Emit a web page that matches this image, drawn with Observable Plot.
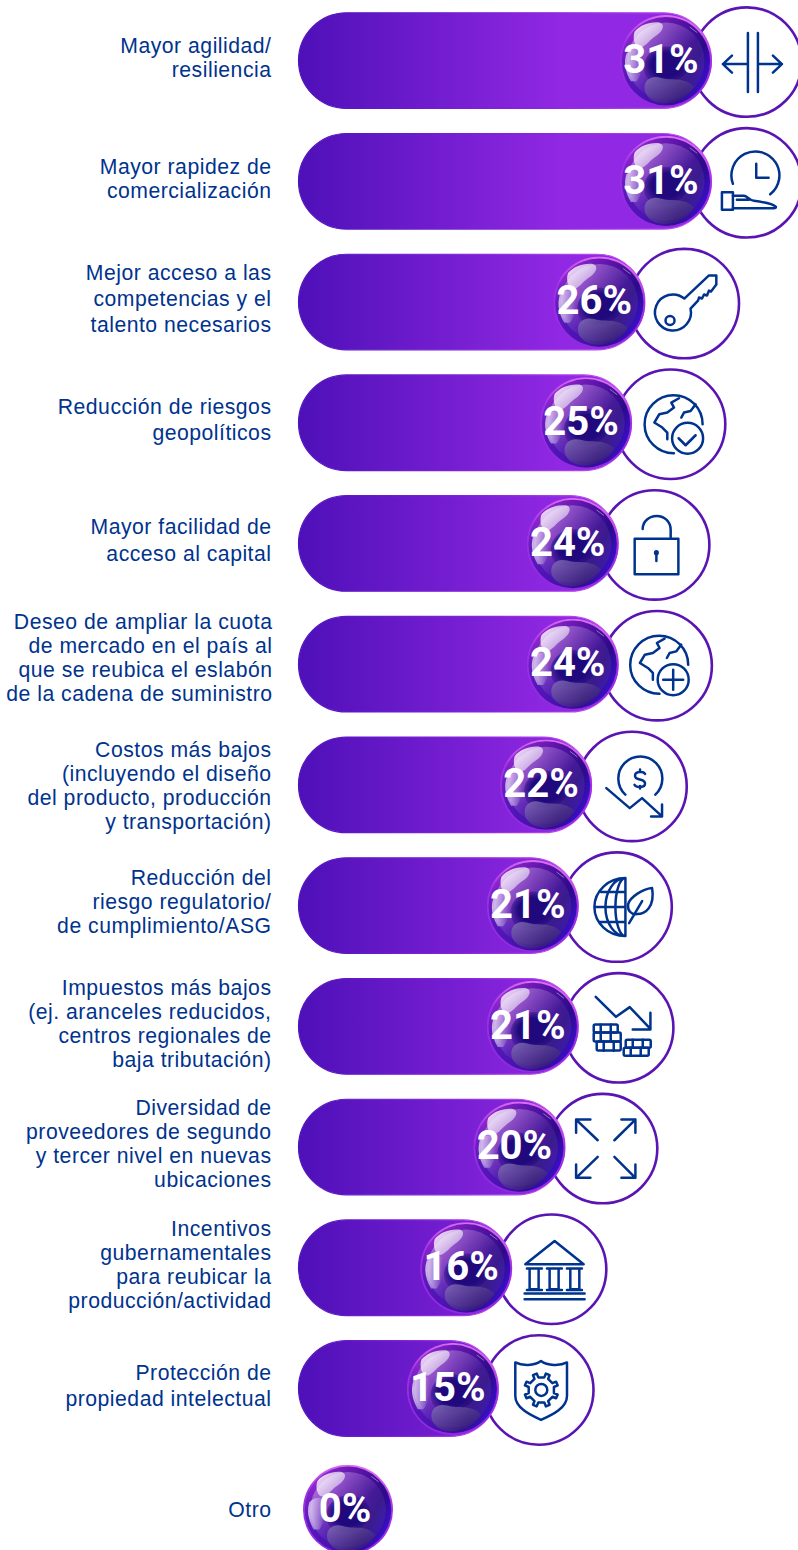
<!DOCTYPE html>
<html><head><meta charset="utf-8">
<style>html,body{margin:0;padding:0;background:#fff}svg{display:block}g[font-family="Liberation Sans"]{letter-spacing:.5px}</style>
<script src="https://cdn.jsdelivr.net/npm/d3@7"></script>
<script src="https://cdn.jsdelivr.net/npm/@observablehq/plot@0.6"></script>
</head><body>
<svg width="0" height="0" style="position:absolute">
<defs>
<linearGradient id="barFill" gradientUnits="userSpaceOnUse" x1="299" x2="560" y1="0" y2="0"><stop offset="0" stop-color="#4e10b8"/><stop offset="1" stop-color="#9128e3"/></linearGradient>
<linearGradient id="barEdge" x1="0" x2="1" y1="0" y2="0"><stop offset="0" stop-color="#5014bc"/><stop offset=".6" stop-color="#8a25e0"/><stop offset="1" stop-color="#c858f0"/></linearGradient>
</defs></svg>
<div id="chart"></div>
<script>
const rowLabels = [
  "Mayor agilidad/\nresiliencia",
  "Mayor rapidez de\ncomercialización",
  "Mejor acceso a las\ncompetencias y el\ntalento necesarios",
  "Reducción de riesgos\ngeopolíticos",
  "Mayor facilidad de\nacceso al capital",
  "Deseo de ampliar la cuota\nde mercado en el país al\nque se reubica el eslabón\nde la cadena de suministro",
  "Costos más bajos\n(incluyendo el diseño\ndel producto, producción\ny transportación)",
  "Reducción del\nriesgo regulatorio/\nde cumplimiento/ASG",
  "Impuestos más bajos\n(ej. aranceles reducidos,\ncentros regionales de\nbaja tributación)",
  "Diversidad de\nproveedores de segundo\ny tercer nivel en nuevas\nubicaciones",
  "Incentivos\ngubernamentales\npara reubicar la\nproducción/actividad",
  "Protección de\npropiedad intelectual",
  "Otro"
];
const rowValues = [31, 31, 26, 25, 24, 24, 22, 21, 21, 20, 16, 15, 0];

const labelLeading = [1.132, 1.132, 1.226, 1.226, 1.274, 1.132, 1.132, 1.132, 1.132, 1.132, 1.132, 1.226, 1.132];
const labelShift = [-4, -3.2, -5, -5, -5, -7, 0, -4.5, -3.5, -4, -4, -4.5, 0];
const labelEdge = [-27.5, -27.5, -27.5, -27.5, -27.5, -26.5, -27.5, -27.5, -27.5, -27.5, -27.5, -27.5, -27.5];
const ringShift = [35, 35, 39, 38.6, 36, 38.5, 40, 38.4, 40, 37.2, 39.5, 40, null];
const glyphShift = [0, 0, 2.7, 0, 0, 0, 0, 0, 0, 2.8, 2, 1.5, 0];

const rows = rowLabels.map((label, i) => ({label, value: rowValues[i], i}));

const ink = "#00338d";
const svgUri = (viewBox, body) => "data:image/svg+xml," + encodeURIComponent(
  `<svg xmlns="http://www.w3.org/2000/svg" viewBox="${viewBox}">${body}</svg>`);

const bubble = svgUri("0 0 100 100", `
<defs>
<linearGradient id="ring" x1="0.6" y1="0" x2="0.4" y2="1"><stop offset="0" stop-color="#e070f2"/><stop offset=".4" stop-color="#a030e6"/><stop offset="1" stop-color="#9029e0"/></linearGradient>
<linearGradient id="sphere" x1="0" y1="0.15" x2="1" y2="0.7"><stop offset="0" stop-color="#9c2cd8"/><stop offset=".45" stop-color="#5a14a8"/><stop offset=".78" stop-color="#2c0a88"/><stop offset="1" stop-color="#3c10d0"/></linearGradient>
<linearGradient id="bl" x1="1" y1="0" x2="0" y2="1"><stop offset=".55" stop-color="#3a10b0" stop-opacity="0"/><stop offset="1" stop-color="#5016c4"/></linearGradient>
<linearGradient id="haze" x1="0" y1="0" x2="1" y2="1"><stop offset="0" stop-color="#fff" stop-opacity=".42"/><stop offset=".55" stop-color="#fff" stop-opacity=".05"/><stop offset="1" stop-color="#000" stop-opacity=".22"/></linearGradient>
<radialGradient id="core"><stop offset=".65" stop-color="#20097c"/><stop offset="1" stop-color="#20097c" stop-opacity=".4"/></radialGradient>
<linearGradient id="hl" x1="0" y1="0" x2="1" y2="1"><stop offset="0" stop-color="#fff" stop-opacity=".92"/><stop offset="1" stop-color="#fff" stop-opacity=".3"/></linearGradient>
<linearGradient id="glow" x1="0" y1="0" x2="1" y2="0"><stop offset="0" stop-color="#fff" stop-opacity=".7"/><stop offset="1" stop-color="#fff" stop-opacity="0"/></linearGradient>
<linearGradient id="low" x1="0" y1="0" x2="1" y2="1"><stop offset="0" stop-color="#8472b8" stop-opacity=".85"/><stop offset="1" stop-color="#2a1060" stop-opacity=".5"/></linearGradient>
</defs>
<circle cx="50" cy="50" r="50" fill="url(#ring)"/>
<circle cx="50" cy="50" r="48" fill="url(#sphere)"/>
<circle cx="50" cy="50" r="48" fill="url(#bl)"/>
<circle cx="50" cy="50" r="42" fill="url(#haze)"/>
<path d="M26 58C25 44 38 34 50 34C65 34 75 43 75 54C73 68 60 74 46 74C35 74 27 70 26 58Z" fill="url(#core)"/>
<path d="M7 42C4 52 6 62 12 72L18 72C24 64 26 54 24 38C17 35 11 37 7 42Z" fill="url(#glow)"/>
<path d="M16 18C22 11 32 7 43 8C50 10 46 18 40 22C32 27 30 32 24 35C17 38 13 26 16 18Z" fill="url(#hl)"/>
<path d="M27 82C25 72 33 65 44 68C56 72 69 66 81 78C74 90 60 96 48 96C36 95 29 90 27 82Z" fill="url(#low)"/>
<path d="M76 13L84 19" stroke="#fff" stroke-opacity=".45" stroke-width="1" fill="none"/>`);

const gear = (() => {
  const pts = [];
  for (let k = 0; k < 8; k++) {
    const a = k * Math.PI / 4 - Math.PI / 8;
    [[-.16, 13], [-.12, 17], [.12, 17], [.16, 13]].forEach(([o, r]) => pts.push([1 + r * Math.cos(a + o), r * Math.sin(a + o)]));
  }
  return "M" + pts.map(p => p.map(v => v.toFixed(1)).join(" ")).join("L") + "Z";
})();

const earth = `<path d="M0.600 29A29 29 0 1 1 29.300 0"/><path d="M5.700 -26L-2 -21.700L0.700 -16.700L-6 -11.700L-14 -10L-19 -1.700L-11 3.300L-6 8.300L-6 15"/><path d="M8 -6.700L10.700 -11.700L17.300 -13.300L22.300 -20"/>`;

const glyphs = [
  `<path d="M1 -29V30M11 -29V30M1 2H-24M-15 -6.500L-24 2L-15 10.500M11 2H35M26 -6.500L35 2L26 10.500"/>`,
  `<path d="M-14 1A24 24 0 1 1 23.300 11.500"/><path d="M9.300 -19V-5H21.700"/><path d="M-25 9.500H-14V27H-25Z"/><path d="M-14 13H-3C0 13 3 18 7 18C15 19 26 21 29 24Q29 25.500 27 25.500H-14M-10 17H2"/>`,
  `<path d="M-2.700 -5A18 18 0 1 0 3.500 5L11 -3L12 -6L15 -5L17 -9L20 -8L22 -13L24 -12L29.300 -19V-28H21.700Z"/><circle cx="-17" cy="17" r="4.500"/>`,
  `<g transform="translate(2.700 0)">${earth}<circle cx="14.300" cy="14" r="15.500"/><path d="M5.300 14L12.300 21L22.300 11"/></g>`,
  `<rect x="-20" y="-6.300" width="43.700" height="35.600"/><path d="M-12 -16C-12 -24 -5 -29 2 -29C10 -29 16 -23 16 -15V-6.300"/><circle cx="1.700" cy="7.700" r="1.300"/><path d="M1.700 8V16"/>`,
  `<g transform="translate(1.700 -1)">${earth}<circle cx="14.300" cy="15" r="15.500"/><path d="M14.300 5V25M4.300 15H24.300"/></g>`,
  `<path d="M-6.700 8.300A22 22 0 1 1 23.300 8.300"/><path d="M-25.700 1.700L-2.300 21.700L10 11.700L30 30M30 18V30H19"/><path d="M13 -12.500C11.500 -15 3 -15.500 3 -10.500C3 -5.500 13 -8.500 13 -3C13 1.500 4.500 1.500 2.500 -1.500M8 -17V-14.500M8 -0.500V2"/>`,
  `<path d="M8.300 -29A31 29 0 0 0 8.300 29ZM8.300 -29A20 29 0 0 0 8.300 29M8.300 -29A10 29 0 0 0 8.300 29M-16 -15H8.300M-22.700 0H8.300M-17 15H8.300"/><path d="M35 -19C25 -18 13 -10 11 -3C10 3 14 8 20 7C28 7 38 0 35 -19ZM12 16L25 -6"/>`,
  `<path d="M-23 -31L-2.700 -11L11 -20.700L31.700 1M31.700 -15V1.700H14"/><rect x="-25" y="-3.300" width="24" height="8" rx="1.500"/><rect x="-25" y="4.700" width="27" height="9" rx="1.500"/><rect x="-22" y="13.700" width="24" height="9" rx="1.500"/><rect x="7" y="12" width="25" height="8" rx="1.500"/><rect x="5" y="20" width="25" height="8" rx="1.500"/><path d="M-18 -3V13M-8 -3V13M-15 14V23M-5 14V23M14 12V20M24 12V20M12 20V28M22 20V28"/>`,
  `<path d="M-29.300 -29L-7.700 -8.300M-29.300 -15.700V-29H-15M30 -29L9 -8.300M16 -29H30V-15.700M-29.300 29.300L-7.700 8.300M-29.300 16V29.300H-15M30 29.300L9 8.300M30 16V29.300H16"/>`,
  `<path d="M-28.300 -5L1 -28.300L30 -5ZM-26.700 -0.700H-11.700M-6.700 -0.700H8.300M13.300 -0.700H28.300M-24 -0.700V20H-15V-0.700M-4 -0.700V20H5V-0.700M16.700 -0.700V20H25.700V-0.700M-26.700 20.700H-11.700M-6.700 20.700H8.300M13.300 20.700H28.300M-29 24.300H31M-29 30H31"/>`,
  `<path d="M-25 -27.500C-18 -24 -6 -24 0.700 -29C7 -24 20 -24 26.700 -27.500V6C26.700 18 12 25 0.700 30C-10 25 -25 18 -25 6Z"/><path d="${gear}"/><circle cx="1" cy="0" r="6"/>`,
  ``
].map(body => svgUri("-55 -55 110 110", `<g fill="none" stroke="${ink}" stroke-width="2.500" stroke-linejoin="round" stroke-linecap="round">${body}</g>`));

const withRing = rows.filter(d => d.value > 0);

const marks = [];
// icon rings (behind bars)
withRing.forEach(d => marks.push(Plot.dot([d], {
  x: "value", y: "label", r: 54.700, dx: ringShift[d.i], dy: 1,
  fill: "white", stroke: "#5a14b4", strokeWidth: 2.600
})));
// bars
marks.push(Plot.barX(withRing, {
  x1: () => 0, x2: "value", y: "label", rx: 48,
  fill: "url(#barFill)", stroke: "url(#barEdge)", strokeWidth: 1.200
}));
// icon glyphs
withRing.forEach(d => marks.push(Plot.image([d], {
  x: "value", y: "label", src: () => glyphs[d.i], width: 110, height: 110,
  dx: ringShift[d.i] + glyphShift[d.i], dy: 1
})));
// bubbles
marks.push(Plot.image(withRing, {x: "value", y: "label", src: () => bubble, width: 92, height: 92, dx: -46}));
marks.push(Plot.image(rows.filter(d => d.value === 0), {x: "value", y: "label", src: () => bubble, width: 90, height: 90, dx: 49}));
// value labels
marks.push(Plot.text(withRing, {
  x: "value", y: "label", text: d => d.value + "%", dx: -51, dy: -1,
  fill: "white", fontSize: 40, fontWeight: 700, fontFamily: "Roboto"
}));
marks.push(Plot.text(rows.filter(d => d.value === 0), {
  x: "value", y: "label", text: d => d.value + "%", dx: 46, dy: -1,
  fill: "white", fontSize: 40, fontWeight: 700, fontFamily: "Roboto"
}));
// category labels
rows.forEach(d => marks.push(Plot.text([d], {
  x: () => 0, y: "label", text: "label", textAnchor: "end", dx: labelEdge[d.i], dy: labelShift[d.i],
  lineHeight: labelLeading[d.i], fill: ink, fontSize: 21.200, fontFamily: "Liberation Sans"
})));

const chart = Plot.plot({
  width: 798, height: 1550,
  marginTop: 0, marginRight: 0, marginBottom: 0, marginLeft: 0,
  x: {domain: [0, 37.5], range: [298.5, 798], axis: null},
  y: {type: "band", domain: rowLabels, range: [12.8, 1557], paddingInner: 0.208, paddingOuter: 0, round: false, axis: null},
  style: {background: "white"},
  marks
});
document.getElementById("chart").appendChild(chart);
</script>
</body></html>
